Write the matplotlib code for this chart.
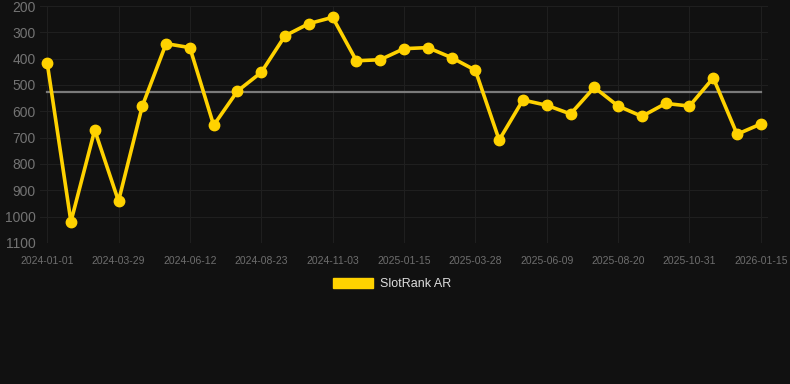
import matplotlib
matplotlib.use("Agg")
import matplotlib.pyplot as plt
import matplotlib.patches as mpatches
import numpy as np

plt.rcParams['font.family'] = ['Liberation Sans', 'DejaVu Sans']

# rank per sample (lower is better, axis inverted)
ranks = [415, 1019, 671, 941, 580, 343, 358, 653, 523, 452,
         313, 267, 243, 408, 404, 362, 358, 396, 444, 709,
         557, 577, 610, 509, 580, 619, 570, 580, 473, 687, 648]
tick_labels = ['2024-01-01', '2024-03-29', '2024-06-12', '2024-08-23', '2024-11-03',
               '2025-01-15', '2025-03-28', '2025-06-09', '2025-08-20', '2025-10-31',
               '2026-01-15']
yticks = [200, 300, 400, 500, 600, 700, 800, 900, 1000, 1100]

bg = '#111111'
gold = '#FFD200'

fig = plt.figure(figsize=(7.9, 3.84), dpi=100, facecolor=bg)
ax = fig.add_axes([40 / 790, 1 - 243 / 384, 728 / 790, 237 / 384], facecolor=bg)

x = np.arange(len(ranks))
avg = np.mean(ranks)
ax.plot([x[0], x[-1]], [avg, avg], color='#7a7a7a', lw=1.6, zorder=2)
ax.plot(x, ranks, color=gold, lw=2.6, marker='o', ms=7.5, zorder=3)

ax.set_ylim(1100, 200)
ax.set_xlim(-0.3, len(ranks) - 1 + 0.3)
ax.set_yticks(yticks)
ax.set_xticks(x[::3])
ax.set_xticklabels(tick_labels)
ax.grid(True, color='#1f1f1f', lw=0.8)
ax.set_axisbelow(True)
for s in ax.spines.values():
    s.set_visible(False)
ax.tick_params(axis='y', colors='#737373', labelsize=10, length=0, pad=3)
ax.tick_params(axis='x', colors='#6e6e6e', labelsize=7.5, length=0, pad=9)

handle = mpatches.Patch(color=gold, label='SlotRank AR')
leg = fig.legend(handles=[handle], loc='center', bbox_to_anchor=(392 / 790, 1 - 284 / 384),
                 frameon=False, fontsize=9, handlelength=3.2, handleheight=0.95,
                 handletextpad=0.5)
for t in leg.get_texts():
    t.set_color('#dddddd')

fig.savefig('out.png', dpi=100, facecolor=bg)
